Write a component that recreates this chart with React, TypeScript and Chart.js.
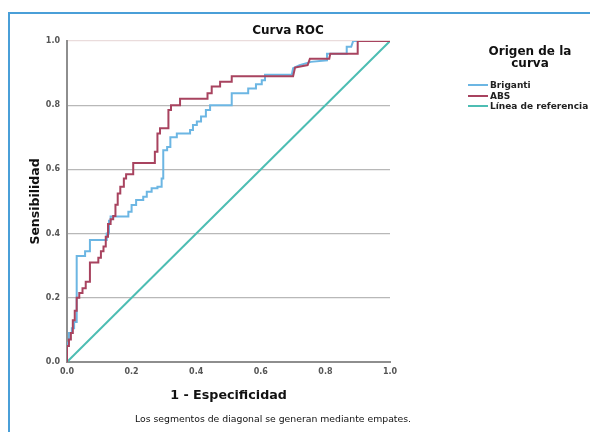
import React, { useEffect, useRef } from "react";
import { Chart, registerables } from "chart.js";

Chart.register(...registerables);

// ABS curve (1 - specificity, sensitivity)
const absFpr = [0, 0, 0.006, 0.006, 0.012, 0.012, 0.018, 0.018, 0.024, 0.024, 0.03, 0.03, 0.038, 0.038, 0.048, 0.048, 0.058, 0.058, 0.071, 0.071, 0.097, 0.097, 0.105, 0.105, 0.113, 0.113, 0.12, 0.12, 0.127, 0.127, 0.135, 0.135, 0.143, 0.143, 0.15, 0.15, 0.157, 0.157, 0.165, 0.165, 0.176, 0.176, 0.183, 0.183, 0.205, 0.205, 0.272, 0.272, 0.28, 0.28, 0.288, 0.288, 0.314, 0.314, 0.322, 0.322, 0.35, 0.35, 0.435, 0.435, 0.448, 0.448, 0.474, 0.474, 0.51, 0.51, 0.7, 0.706, 0.745, 0.752, 0.812, 0.815, 0.9, 0.9, 1.0];
const absTpr = [0, 0.05, 0.05, 0.07, 0.07, 0.09, 0.09, 0.13, 0.13, 0.16, 0.16, 0.2, 0.2, 0.215, 0.215, 0.23, 0.23, 0.25, 0.25, 0.31, 0.31, 0.325, 0.325, 0.345, 0.345, 0.36, 0.36, 0.39, 0.39, 0.43, 0.43, 0.445, 0.445, 0.455, 0.455, 0.49, 0.49, 0.525, 0.525, 0.546, 0.546, 0.572, 0.572, 0.585, 0.585, 0.62, 0.62, 0.655, 0.655, 0.712, 0.712, 0.728, 0.728, 0.785, 0.785, 0.8, 0.8, 0.82, 0.82, 0.837, 0.837, 0.858, 0.858, 0.873, 0.873, 0.89, 0.89, 0.917, 0.925, 0.945, 0.945, 0.96, 0.96, 1.0, 1.0];

// Briganti curve (1 - specificity, sensitivity)
const brigFpr = [0, 0, 0.006, 0.006, 0.015, 0.015, 0.022, 0.022, 0.03, 0.03, 0.056, 0.056, 0.071, 0.071, 0.123, 0.123, 0.13, 0.13, 0.135, 0.135, 0.19, 0.19, 0.2, 0.2, 0.214, 0.214, 0.236, 0.236, 0.247, 0.247, 0.262, 0.262, 0.28, 0.28, 0.293, 0.293, 0.298, 0.298, 0.31, 0.31, 0.32, 0.32, 0.34, 0.34, 0.381, 0.381, 0.39, 0.39, 0.402, 0.402, 0.415, 0.415, 0.43, 0.43, 0.443, 0.443, 0.51, 0.51, 0.561, 0.561, 0.585, 0.585, 0.603, 0.603, 0.613, 0.613, 0.696, 0.7, 0.72, 0.755, 0.805, 0.805, 0.866, 0.866, 0.88, 0.886, 1.0];
const brigTpr = [0, 0.06, 0.06, 0.09, 0.09, 0.105, 0.105, 0.125, 0.125, 0.33, 0.33, 0.345, 0.345, 0.38, 0.38, 0.4, 0.4, 0.44, 0.44, 0.453, 0.453, 0.468, 0.468, 0.489, 0.489, 0.505, 0.505, 0.515, 0.515, 0.53, 0.53, 0.541, 0.541, 0.546, 0.546, 0.572, 0.572, 0.66, 0.66, 0.67, 0.67, 0.7, 0.7, 0.712, 0.712, 0.723, 0.723, 0.738, 0.738, 0.749, 0.749, 0.765, 0.765, 0.785, 0.785, 0.8, 0.8, 0.837, 0.837, 0.852, 0.852, 0.865, 0.865, 0.878, 0.878, 0.895, 0.895, 0.915, 0.925, 0.935, 0.94, 0.96, 0.96, 0.982, 0.982, 1.0, 1.0];

const refX = [0, 1];
const refY = [0, 1];

const tickValues = [0, 0.2, 0.4, 0.6, 0.8, 1.0];

const seriesNames = ["Briganti", "ABS", "Línea de referencia"];
const seriesColors = ["#6cb6e3", "#a8435f", "#4dbdb3"];

const chartTitle = "Curva ROC";
const legendTitle = ["Origen de la", "curva"];
const xTitle = "1 - Especificidad";
const yTitle = "Sensibilidad";
const footnote = "Los segmentos de diagonal se generan mediante empates.";

const toPoints = (xs: number[], ys: number[]) => xs.map((x, i) => ({ x, y: ys[i] }));

const FONT = "'DejaVu Sans', sans-serif";

export default function App() {
  const ref = useRef<HTMLCanvasElement | null>(null);

  useEffect(() => {
    if (!ref.current) return;
    const chart = new Chart(ref.current, {
      type: "scatter",
      data: {
        datasets: [
          {
            label: seriesNames[1],
            data: toPoints(absFpr, absTpr),
            showLine: true,
            borderColor: seriesColors[1],
            borderWidth: 2,
            pointRadius: 0,
            tension: 0,
          },
          {
            label: seriesNames[0],
            data: toPoints(brigFpr, brigTpr),
            showLine: true,
            borderColor: seriesColors[0],
            borderWidth: 2,
            pointRadius: 0,
            tension: 0,
          },
          {
            label: seriesNames[2],
            data: toPoints(refX, refY),
            showLine: true,
            borderColor: seriesColors[2],
            borderWidth: 2,
            pointRadius: 0,
            tension: 0,
          },
        ],
      },
      options: {
        animation: false,
        responsive: false,
        events: [],
        layout: { padding: { left: 0, top: 41, right: 200, bottom: 20 } },
        plugins: {
          legend: { display: false },
          tooltip: { enabled: false },
          title: { display: false },
        },
        scales: {
          x: {
            type: "linear",
            min: 0,
            max: 1,
            afterFit: (s: any) => {
              s.height = 50;
            },
            afterBuildTicks: (s: any) => {
              s.ticks = tickValues.map((v) => ({ value: v }));
            },
            ticks: {
              padding: 5,
              color: "#555",
              font: { family: FONT, size: 8, weight: "bold" },
              callback: (v: any) => Number(v).toFixed(1),
              maxRotation: 0,
            },
            grid: { color: "rgba(0,0,0,0)", drawTicks: false },
            border: { display: true, color: "#8e8e8e", width: 2 },
            title: {
              display: true,
              text: xTitle,
              color: "#111",
              font: { family: FONT, size: 12.7, weight: "bold" },
              padding: { top: 0, bottom: 9 },
            },
          },
          y: {
            type: "linear",
            min: 0,
            max: 1,
            afterFit: (s: any) => {
              s.width = 67;
            },
            afterBuildTicks: (s: any) => {
              s.ticks = tickValues.map((v) => ({ value: v }));
            },
            ticks: {
              padding: 7,
              color: "#555",
              font: { family: FONT, size: 8, weight: "bold" },
              callback: (v: any) => Number(v).toFixed(1),
            },
            grid: {
              drawTicks: false,
              lineWidth: 1.2,
              color: (c: any) => {
                const v = c.tick ? c.tick.value : null;
                if (v === 0) return "rgba(0,0,0,0)";
                if (v === 1) return "#eadcdc";
                return "#b8b8b8";
              },
            },
            border: { display: true, color: "#8e8e8e", width: 2 },
            title: {
              display: true,
              text: yTitle,
              color: "#111",
              font: { family: FONT, size: 12.5, weight: "bold" },
              padding: { top: 28, bottom: 0 },
            },
          },
        },
      },
    });
    return () => chart.destroy();
  }, []);

  const legendOrder = [0, 1, 2];

  return (
    <div
      style={{
        position: "fixed",
        left: 0,
        top: 0,
        width: 590,
        height: 432,
        overflow: "hidden",
        background: "#fff",
        fontFamily: FONT,
      }}
    >
      <div
        style={{
          position: "absolute",
          left: 8,
          top: 12,
          width: 700,
          height: 600,
          borderLeft: "2px solid #4a9fd8",
          borderTop: "2px solid #4a9fd8",
        }}
      />
      <canvas
        ref={ref}
        width={590}
        height={432}
        style={{ position: "absolute", left: 0, top: 0, width: 590, height: 432 }}
      />
      <div
        style={{
          position: "absolute",
          left: 188,
          width: 200,
          top: 22,
          textAlign: "center",
          fontSize: 12,
          fontWeight: "bold",
          color: "#111",
          lineHeight: "16px",
        }}
      >
        {chartTitle}
      </div>
      <div
        style={{
          position: "absolute",
          left: 470,
          width: 120,
          top: 45,
          textAlign: "center",
          fontSize: 12,
          fontWeight: "bold",
          color: "#111",
          lineHeight: "12px",
        }}
      >
        {legendTitle.map((t) => (
          <div key={t}>{t}</div>
        ))}
      </div>
      {legendOrder.map((i, k) => (
        <div
          key={i}
          style={{
            position: "absolute",
            left: 468,
            top: 80 + k * 10.5,
            height: 10,
            display: "flex",
            alignItems: "center",
            whiteSpace: "nowrap",
          }}
        >
          <div style={{ width: 20, height: 2, background: seriesColors[i], marginRight: 2 }} />
          <span style={{ fontSize: 9, fontWeight: "bold", color: "#222", lineHeight: "10px" }}>
            {seriesNames[i]}
          </span>
        </div>
      ))}
      <div
        style={{
          position: "absolute",
          left: 73,
          width: 400,
          top: 413,
          textAlign: "center",
          fontSize: 9.3,
          color: "#111",
          lineHeight: "12px",
        }}
      >
        {footnote}
      </div>
    </div>
  );
}
